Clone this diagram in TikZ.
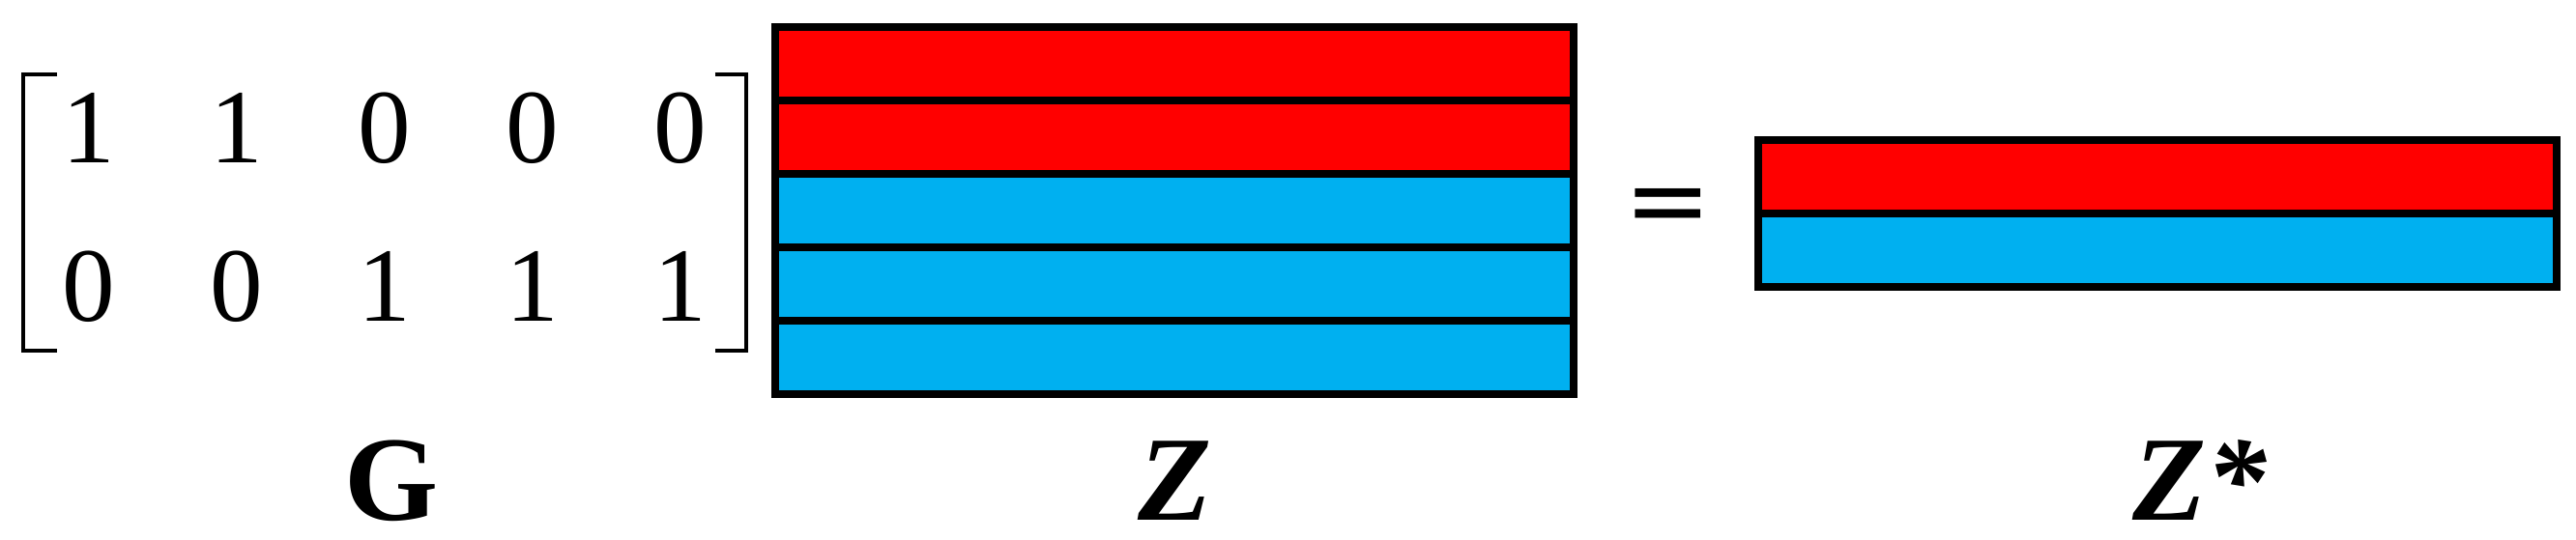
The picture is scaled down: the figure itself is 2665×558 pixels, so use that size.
\documentclass[tikz,border=0pt]{standalone}
\usepackage{fontspec}
\setmainfont{Liberation Serif}
\newfontfamily\eqfont{DejaVu Sans}
\definecolor{zred}{RGB}{255,0,0}
\definecolor{zblue}{RGB}{0,176,240}
\begin{document}
\begin{tikzpicture}[x=0.25pt,y=-0.25pt,
  cell/.style={inner sep=0pt, anchor=base, font=\fontsize{27.3}{30}\selectfont},
  lab/.style={inner sep=0pt, anchor=base, font=\fontsize{31.2}{34}\selectfont\bfseries},
  rowbox/.style={draw=black, line width=2pt},
  brk/.style={line width=1pt}]
\useasboundingbox (0,0) rectangle (2665,558);
% matrix G entries
\foreach \v [count=\c] in {1,1,0,0,0} {
  \node[cell] (ga\c) at ({92+153*(\c-1)},168) {\v};
}
\foreach \v [count=\c] in {0,0,1,1,1} {
  \node[cell] (gb\c) at ({92+153*(\c-1)},332) {\v};
}
% brackets
\draw[brk] (59,77) -- (24,77) -- (24,363) -- (59,363);
\draw[brk] (739.5,77) -- (771.5,77) -- (771.5,363) -- (739.5,363);
% Z rows
\foreach \i/\col in {0/zred,1/zred,2/zblue,3/zblue,4/zblue} {
  \path[rowbox, fill=\col] (802,{28+76*\i}) rectangle (1628,{104+76*\i});
}
% equals
\node[inner sep=0pt, font=\fontsize{27}{30}\eqfont] (eq) at (1725.5,219.5) {=};
% Z* rows
\path[rowbox, fill=zred] (1819,145) rectangle (2645,221);
\path[rowbox, fill=zblue] (1819,221) rectangle (2645,297);
% labels
\node[lab] (lG) at (405,538) {G};
\node[lab, font=\fontsize{31.2}{34}\selectfont\bfseries\itshape] (lZ) at (1216,538) {Z};
\node[lab, font=\fontsize{31.2}{34}\selectfont\bfseries\itshape] (lZs) at (2276,538) {Z*};
\end{tikzpicture}
\end{document}
